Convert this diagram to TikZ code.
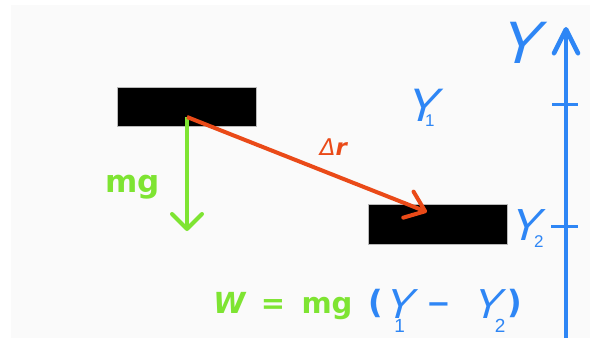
\documentclass[tikz,border=0pt]{standalone}
\usepackage{fontspec}
\setmainfont{DejaVu Sans}
\newfontfamily\yfont[FakeSlant=0.28]{Liberation Sans}
\newfontfamily\subfont{Liberation Sans}
\usetikzlibrary{arrows.meta}
\definecolor{bgc}{HTML}{FAFAFA}
\definecolor{limec}{HTML}{7EE432}
\definecolor{axblue}{HTML}{2E86F5}
\definecolor{rorange}{HTML}{EA4A18}
% #1 letter size, #2 kern, #3 drop, #4 sub size, #5 digit
\newcommand{\ysym}[5]{{\yfont\fontsize{#1}{#1}\selectfont Y}\kern#2\raisebox{#3}{\subfont\fontsize{#4}{#4}\selectfont #5}}
\tikzset{
  block/.style={fill=black,draw=gray!55,line width=0.8pt,inner sep=0pt,minimum width=139pt,minimum height=39pt},
  greentxt/.style={text=limec,inner sep=0pt,font=\bfseries\fontsize{29}{29}\selectfont},
  bluetxt/.style={text=axblue,inner sep=0pt},
  ylab/.style={text=axblue,inner sep=0pt,anchor=base west},
}
\begin{document}
\begin{tikzpicture}[x=1pt,y=-1pt]
\useasboundingbox (0,0) rectangle (590,338);
\fill[white] (0,0) rectangle (590,338);
\fill[bgc] (11,5) rectangle (590,338);
% blocks
\node[block] (b1) at (186.5,106.5) {};
\node[block,minimum height=40pt] (b2) at (437.5,224) {};
% vectors
\coordinate (p0) at (187,117);
\coordinate (g1) at (187,231);
\coordinate (r1) at (427,212);
\draw[limec,line width=4pt,-{Straight Barb[round,length=15pt,width=30pt]}] (p0) -- (g1);
\draw[rorange,line width=4pt,-{Straight Barb[round,length=18pt,width=28pt]}] (p0) -- (r1);
\node[text=limec,inner sep=0pt,anchor=base,font=\bfseries\fontsize{31}{31}\selectfont] (mg) at (132.5,192) {mg};
\node[text=rorange,inner sep=0pt,anchor=base,font=\fontsize{23}{23}\selectfont] (dr) at (334,155) {\textit{Δ}\textbf{\textit{r}}};
% axis
\coordinate (a0) at (566,338);
\coordinate (a1) at (566,27);
\draw[axblue,line width=4.5pt,-{Straight Barb[round,length=24pt,width=24pt]}] (a0) -- (a1);
\coordinate (t1a) at (552,104); \coordinate (t1b) at (578,104);
\coordinate (t2a) at (551,226); \coordinate (t2b) at (578,226);
\draw[axblue,line width=3pt] (t1a) -- (t1b);
\draw[axblue,line width=3pt] (t2a) -- (t2b);
\node[text=axblue,inner sep=0pt,font=\yfont\fontsize{60}{60}\selectfont] (ytop) at (518,42.5) {Y};
\node[ylab] (y1) at (404.3,121.8) {\ysym{47}{-10.8pt}{-5pt}{17}{1}};
\node[ylab] (y2) at (508.5,240.1) {\ysym{45}{-4.7pt}{-7pt}{17}{2}};
% formula
\node[greentxt,anchor=base] (fw) at (230,313) {\textit{W}};
\node[greentxt,anchor=base] (feq) at (273,313) {=};
\node[greentxt,anchor=base] (fmg) at (327,313) {mg};
\node[bluetxt,anchor=base,font=\bfseries\fontsize{32}{32}\selectfont] (fl) at (376,313) {(};
\node[ylab] (fy1) at (383,318.5) {\ysym{42}{-16.8pt}{-14.3pt}{19}{1}};
\node[bluetxt,anchor=base,font=\bfseries\fontsize{29}{29}\selectfont] (fmin) at (438.5,313) {−};
\node[ylab] (fy2) at (471,318.5) {\ysym{42}{-4.3pt}{-14.3pt}{19}{2}};
\node[bluetxt,anchor=base,font=\bfseries\fontsize{32}{32}\selectfont] (fr) at (515,313) {)};
\end{tikzpicture}
\end{document}
